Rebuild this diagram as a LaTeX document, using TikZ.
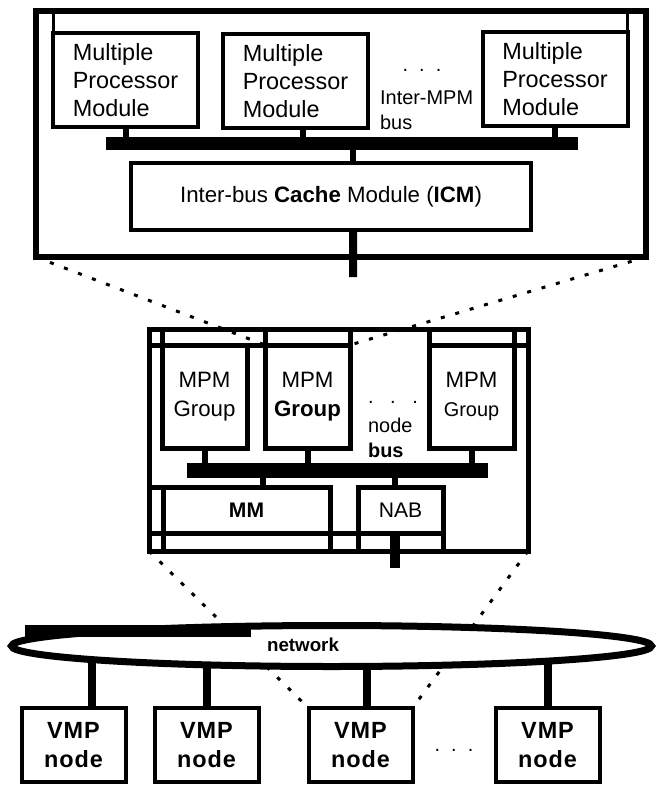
\documentclass[tikz,border=0pt]{standalone}
\usepackage{fontspec}
\setmainfont{Liberation Sans}
\usepackage{tikz}
\usetikzlibrary{positioning,shapes.geometric,calc}
\pgfdeclarelayer{background}
\pgfsetlayers{background,main}

\begin{document}
\begin{tikzpicture}[x=0.3mm, y=-0.3mm,
			boxStyle/.style={draw, line width=1.2mm, inner sep=0pt, outer sep=0pt, align=center},
			mpmStyle/.style={boxStyle, minimum width=43.5mm, minimum height=28.4mm, align=left, font=\fontsize{20}{24}\selectfont},
			groupStyle/.style={boxStyle, line width=1.5mm, minimum width=25.5mm, minimum height=30.9mm, font=\fontsize{19}{25}\selectfont},
			busStyle/.style={fill=black, inner sep=0pt, outer sep=0pt},
			stubStyle/.style={line width=1.8mm},
			gridStyle/.style={line width=1.5mm},
			zoomStyle/.style={line width=0.9mm, dash pattern=on 1.2mm off 3.3mm},
			vmpStyle/.style={boxStyle, minimum width=31.2mm, minimum height=22.2mm, font=\fontsize{20}{25}\selectfont\bfseries\addfontfeature{LetterSpace=4}},
			dotsStyle/.style={font=\fontsize{17}{17}\selectfont}]
			
			\useasboundingbox (0,0) rectangle (662,785);
			
			%%%%%%%%%%% processor node (enlarged)
			\node[draw, line width=1.8mm, outer sep=0pt, minimum width=183mm, minimum height=73.8mm] (topBox) at (341,134) {};
			
			\begin{scope}[every node/.style={mpmStyle}]
				\node (mpm1) at (125.5,80) {Multiple\\Processor\\Module};
				\node (mpm2) at (295.5,81) {Multiple\\Processor\\Module};
				\node (mpm3) at (555,79) {Multiple\\Processor\\Module};
			\end{scope}
			
			\node[dotsStyle] (topDots) at (422,70) {.~~.~~.};
			\node[anchor=west, align=left, font=\fontsize{17}{21}\selectfont] (mpmBusLabel) at (376,110) {Inter-MPM\\bus};
			
			\node[busStyle, minimum width=141.6mm, minimum height=3.9mm] (mpmBus) at (342,143.5) {};
			\node[boxStyle, minimum width=120mm, minimum height=20.1mm, font=\fontsize{19}{23}\selectfont] (icm) at (331,196.5) {Inter-bus \textbf{Cache} Module (\textbf{ICM})};
			
			\draw[line width=0.9mm] (mpm1.north west) -- (mpm1.north west |- topBox.north);
			\draw[line width=0.9mm] (mpm3.north east) -- (mpm3.north east |- topBox.north);
			
			\coordinate (mpm2Out) at ([xshift=2.2mm]mpm2.south);
			\coordinate (icmIn) at ([xshift=6.6mm]icm.north);
			\coordinate (icmOut) at ([xshift=6.6mm]icm.south);
			\coordinate (icmTail) at (353,277);
			\foreach \value in {mpm1.south, mpm2Out, mpm3.south}
			\draw[stubStyle] (\value) -- (\value |- mpmBus.north);
			\draw[stubStyle] (icmIn |- mpmBus.south) -- (icmIn);
			\draw[line width=2.4mm] (icmOut) -- (icmTail);
			
			%%%%%%%%%%% VMP node
			\node[draw, line width=1.5mm, outer sep=0pt, minimum width=113.7mm, minimum height=66.6mm] (nodeBox) at (338.5,440) {};
			
			\begin{scope}[every node/.style={groupStyle}]
				\node (g1) at (204.5,396.5) {MPM\\Group};
				\node (g2) at (307.5,396.5) {MPM\\\textbf{Group}};
				\node (g3) at (471.5,396.5) {MPM\\{\fontsize{17}{17}\selectfont Group}};
			\end{scope}
			
			\node[dotsStyle] (nodeDots) at (393,402) {.~~~.~~~.};
			\node[anchor=west, align=left, font=\fontsize{17}{21}\selectfont] (nodeBusLabel) at (364,438) {node\\\textbf{bus}};
			
			\node[busStyle, minimum width=90.3mm, minimum height=4.5mm] (nodeBus) at (337.5,470.5) {};
			\node[boxStyle, gridStyle, minimum width=50.1mm, minimum height=13.8mm, font=\fontsize{18}{18}\selectfont\bfseries] (mm) at (246.5,510) {MM};
			\node[boxStyle, gridStyle, minimum width=25.5mm, minimum height=13.8mm, font=\fontsize{18}{18}\selectfont] (nab) at (400.5,510) {NAB};
			
			\draw[gridStyle] (nodeBox.west |- g1.north) -- (g2.north east);
			\draw[gridStyle] (g3.north west) -- (nodeBox.east |- g3.north);
			\foreach \value in {g1.north west, g2.north west, g2.north east, g3.north west, g3.north east}
			\draw[gridStyle] (\value) -- (\value |- nodeBox.north);
			
			\draw[gridStyle] (nodeBox.west |- mm.north) -- (mm.north west);
			\draw[gridStyle] (nodeBox.west |- mm.south) -- (nab.south west);
			\foreach \value in {mm.south west, mm.south east, nab.south west, nab.south east}
			\draw[gridStyle] (\value) -- (\value |- nodeBox.south);
			
			\foreach \value in {g1,g2,g3}
			\draw[stubStyle] (\value.south) -- (\value.south |- nodeBus.north);
			\coordinate (mmIn) at ([xshift=4.95mm]mm.north);
			\coordinate (nabIn) at ([xshift=-1.65mm]nab.north);
			\coordinate (nabTail) at (395,568);
			\draw[stubStyle] (mmIn |- nodeBus.south) -- (mmIn);
			\draw[stubStyle] (nabIn |- nodeBus.south) -- (nabIn);
			\draw[line width=3mm] (nab.south -| nabTail) -- (nabTail);
			
			%%%%%%%%%%% network
			\node[ellipse, draw, fill=white, line width=2.1mm, inner sep=0pt, minimum width=192mm, minimum height=12.3mm] (net) at (331.5,646) {};
			\fill (25,625) rectangle (251,637);
			\node[font=\fontsize{16}{16}\selectfont\bfseries] (netLabel) at (303,645) {network};
			
			\begin{scope}[every node/.style={vmpStyle}]
				\node (v1) at (73.5,745) {VMP\\node};
				\node (v2) at (206.5,745) {VMP\\node};
				\node (v3) at (360.5,745) {VMP\\node};
				\node (v4) at (547.5,745) {VMP\\node};
			\end{scope}
			\node[dotsStyle] (vmpDots) at (454,750) {.~~.~~.};
			
			\begin{pgfonlayer}{background}
				\coordinate (v1In) at ([xshift=5.5mm]v1.north);
				\coordinate (v3In) at ([xshift=1.8mm]v3.north);
				\foreach \value in {v1In, v2.north, v3In, v4.north}
				\draw[line width=2.4mm] (\value) -- (\value |- net.center);
				
				\draw[zoomStyle] (topBox.south west) -- (g2.north west);
				\draw[zoomStyle] (topBox.south east) -- (g2.north east);
				\draw[zoomStyle] (nodeBox.south west) -- (v3.north west);
				\draw[zoomStyle] (nodeBox.south east) -- (v3.north east);
			\end{pgfonlayer}
		\end{tikzpicture}
\end{document}
